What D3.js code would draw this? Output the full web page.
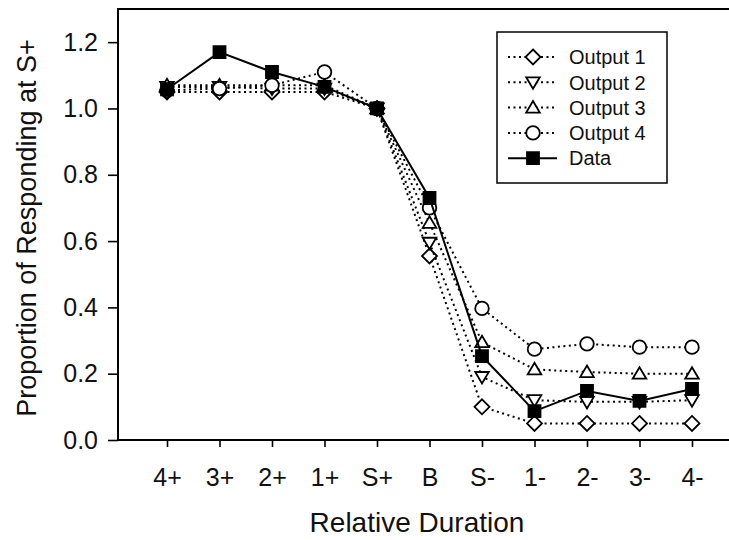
<!DOCTYPE html>
<html>
<head>
<meta charset="utf-8">
<script src="https://cdn.jsdelivr.net/npm/d3@7"></script>
<style>
  body { margin: 0; background: #fff; }
  svg { display: block; font-family: "Liberation Sans", Arial, sans-serif; }
</style>
</head>
<body>
<div id="chart"></div>
<script>
;(function () {
    // categories along the x axis
    const durations = ["4+", "3+", "2+", "1+", "S+", "B", "S-", "1-", "2-", "3-", "4-"]
    const yTicks = [0, 0.2, 0.4, 0.6, 0.8, 1.0, 1.2]

    // values
    const output1 = [1.05, 1.05, 1.05, 1.05, 1.0, 0.555, 0.10, 0.05, 0.05, 0.05, 0.05]
    const output2 = [1.065, 1.065, 1.06, 1.06, 1.0, 0.595, 0.19, 0.12, 0.115, 0.115, 0.12]
    const output3 = [1.07, 1.07, 1.07, 1.07, 1.0, 0.655, 0.295, 0.213, 0.205, 0.20, 0.20]
    const output4 = [1.055, 1.06, 1.07, 1.11, 1.0, 0.70, 0.397, 0.274, 0.29, 0.28, 0.28]
    const dataValues = [1.058, 1.17, 1.11, 1.065, 1.0, 0.73, 0.253, 0.087, 0.148, 0.118, 0.154]

    const series = [
        { name: "Output 1", values: output1, shape: "diamond", dotted: true },
        { name: "Output 2", values: output2, shape: "triangleDown", dotted: true },
        { name: "Output 3", values: output3, shape: "triangleUp", dotted: true },
        { name: "Output 4", values: output4, shape: "circle", dotted: true },
        { name: "Data", values: dataValues, shape: "square", dotted: false }
    ]

    const width = 729
    const height = 540
    const plot = { left: 118, top: 9, right: 740, bottom: 440 }

    const xPositionScale = d3.scalePoint().domain(durations).range([167, 692])
    const yPositionScale = d3.scaleLinear().domain([0, 1.3]).range([plot.bottom, plot.top])

    const svg = d3.select("#chart")
        .append("svg")
        .attr("width", width)
        .attr("height", height)

    // marker shapes, centred at 0,0
    function markerPath(shape) {
        if (shape === "diamond") return "M0,-7.5L7.5,0L0,7.5L-7.5,0Z"
        if (shape === "triangleDown") return "M-6.8,-5L6.8,-5L0,6.5Z"
        if (shape === "triangleUp") return "M-6.8,5L6.8,5L0,-6.5Z"
        if (shape === "square") return "M-6,-6L6,-6L6,6L-6,6Z"
        return d3.arc()({ innerRadius: 0, outerRadius: 6.8, startAngle: 0, endAngle: 2 * Math.PI })
    }

    // axes
    const yAxisGenerator = d3.axisLeft(yPositionScale)
        .tickValues(yTicks)
        .tickFormat(d3.format(".1f"))
        .tickSize(10)
        .tickPadding(10)
    const yAxis = svg.append("g")
        .attr("transform", `translate(${plot.left},0)`)
        .call(yAxisGenerator)

    const xAxisGenerator = d3.axisBottom(xPositionScale)
        .tickSize(7)
        .tickPadding(21)
    const xAxis = svg.append("g")
        .attr("transform", `translate(0,${plot.bottom})`)
        .call(xAxisGenerator)

    ;[xAxis, yAxis].forEach(function (axis) {
        axis.select(".domain").remove()
        axis.selectAll("line").attr("stroke", "#000").attr("stroke-width", 1.6)
        axis.selectAll("text").attr("font-size", 25).attr("fill", "#111")
            .attr("font-family", "'Liberation Sans', Arial, sans-serif")
    })

    // frame (right edge falls outside the picture)
    svg.append("rect")
        .attr("x", plot.left)
        .attr("y", plot.top)
        .attr("width", plot.right - plot.left)
        .attr("height", plot.bottom - plot.top)
        .attr("fill", "none")
        .attr("stroke", "#000")
        .attr("stroke-width", 2)

    // axis titles
    svg.append("text")
        .attr("x", 417)
        .attr("y", 532)
        .attr("text-anchor", "middle")
        .attr("font-size", 28)
        .attr("fill", "#111")
        .text("Relative Duration")

    svg.append("text")
        .attr("transform", "translate(36,228) rotate(-90)")
        .attr("text-anchor", "middle")
        .attr("font-size", 27)
        .attr("fill", "#111")
        .text("Proportion of Responding at S+")

    const line = d3.line()
        .x((d, i) => xPositionScale(durations[i]))
        .y(d => yPositionScale(d))

    // lines first, then markers, data on top
    series.forEach(function (s) {
        svg.append("path")
            .datum(s.values)
            .attr("fill", "none")
            .attr("stroke", "#000")
            .attr("stroke-width", 2)
            .attr("stroke-dasharray", s.dotted ? "2,3.5" : null)
            .attr("d", line)

        svg.append("g")
            .selectAll("path")
            .data(s.values)
            .enter()
            .append("path")
            .attr("transform", (d, i) => `translate(${xPositionScale(durations[i])},${yPositionScale(d)})`)
            .attr("d", markerPath(s.shape))
            .attr("fill", s.shape === "square" ? "#000" : "#fff")
            .attr("stroke", "#000")
            .attr("stroke-width", 1.8)
    })

    // legend
    const legend = svg.append("g")
    legend.append("rect")
        .attr("x", 497)
        .attr("y", 32)
        .attr("width", 170)
        .attr("height", 151)
        .attr("fill", "#fff")
        .attr("stroke", "#000")
        .attr("stroke-width", 1.5)

    const items = legend.selectAll("g.item")
        .data(series)
        .enter()
        .append("g")
        .attr("class", "item")
        .attr("transform", (d, i) => `translate(533,${57 + i * 25.3})`)

    items.append("line")
        .attr("x1", -25)
        .attr("x2", 24)
        .attr("stroke", "#000")
        .attr("stroke-width", 2)
        .attr("stroke-dasharray", d => d.dotted ? "2,3.5" : null)

    items.append("path")
        .attr("d", d => markerPath(d.shape))
        .attr("fill", d => d.shape === "square" ? "#000" : "#fff")
        .attr("stroke", "#000")
        .attr("stroke-width", 1.8)

    items.append("text")
        .attr("x", 36)
        .attr("dy", "0.36em")
        .attr("font-size", 20)
        .attr("fill", "#111")
        .text(d => d.name)
})()
</script>
</body>
</html>
